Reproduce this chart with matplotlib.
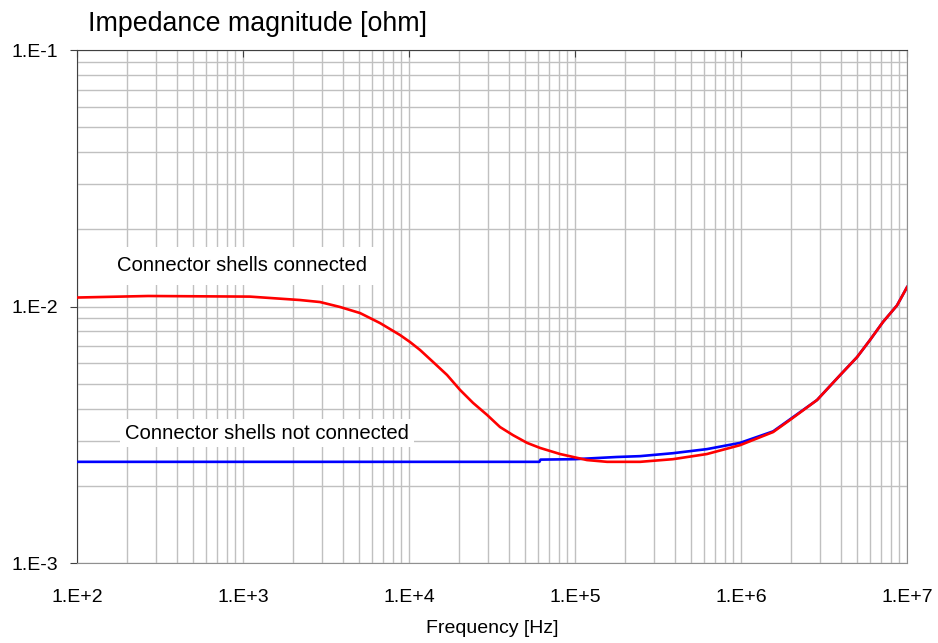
import numpy as np
import matplotlib.pyplot as plt
from matplotlib.ticker import FixedLocator, LogLocator, FuncFormatter

plt.rcParams['font.family'] = ['Liberation Sans', 'DejaVu Sans']

# impedance with the connector shells bonded together
freq_conn = [100, 268, 1100, 2203, 2911, 3837, 5070, 6687, 8830, 10140, 11650,
             13950, 16940, 20290, 24300, 29510, 35320, 42350, 51420, 61540,
             81250, 1.18e5, 1.56e5, 2.466e5, 3.89e5, 6.23e5, 9.86e5, 1.56e6,
             1.97e6, 2.87e6, 3.95e6, 5.0e6, 5.98e6, 7.16e6, 8.7e6, 1.0e7]
z_conn = [0.01084, 0.01099, 0.01093, 0.01060, 0.01041, 0.00996, 0.00943, 0.00862,
          0.00774, 0.00727, 0.00677, 0.00608, 0.00541, 0.00473, 0.00421, 0.00378,
          0.00339, 0.00315, 0.00294, 0.00281, 0.00266, 0.00252, 0.00248, 0.00248,
          0.00254, 0.00266, 0.00288, 0.00324, 0.00361, 0.00432, 0.0054, 0.00635,
          0.0074, 0.0087, 0.0101, 0.0119]

# impedance with the shells left floating
freq_open = [100, 1.0e3, 1.0e4, 6.1e4, 6.2e4, 1.0e5, 1.78e5, 2.466e5, 3.89e5,
             6.23e5, 9.86e5, 1.56e6, 1.97e6, 2.87e6, 3.95e6, 5.0e6, 5.98e6,
             7.16e6, 8.7e6, 1.0e7]
z_open = [0.00248, 0.00248, 0.00248, 0.00248, 0.00253, 0.00254, 0.00259, 0.00261,
          0.00268, 0.00278, 0.00294, 0.00326, 0.00363, 0.00432, 0.0054, 0.00635,
          0.0074, 0.0087, 0.0101, 0.0119]

x_ticks = [1e2, 1e3, 1e4, 1e5, 1e6, 1e7]
y_ticks = [1e-3, 1e-2, 1e-1]


def excel_fmt(v, pos):
    e = int(round(np.log10(v)))
    return f"1.E{e:+d}" if e >= 0 else f"1.E-{abs(e)}"


fig = plt.figure(figsize=(9.38, 6.43), dpi=100)
ax = fig.add_axes([0.0821, 0.1244, 0.8849, 0.7978])

ax.plot(freq_open, z_open, color='#0000ff', lw=1.9, zorder=3)
ax.plot(freq_conn, z_conn, color='#ff0000', lw=1.9, zorder=4)

ax.set_xscale('log')
ax.set_yscale('log')
ax.set_xlim(1e2, 1e7)
ax.set_ylim(1e-3, 1e-1)

ax.xaxis.set_major_locator(FixedLocator(x_ticks))
ax.yaxis.set_major_locator(FixedLocator(y_ticks))
ax.xaxis.set_minor_locator(LogLocator(base=10, subs=np.arange(2, 10), numticks=20))
ax.yaxis.set_minor_locator(LogLocator(base=10, subs=np.arange(2, 10), numticks=20))
ax.xaxis.set_major_formatter(FuncFormatter(excel_fmt))
ax.yaxis.set_major_formatter(FuncFormatter(excel_fmt))
ax.xaxis.set_minor_formatter(FuncFormatter(lambda v, p: ''))
ax.yaxis.set_minor_formatter(FuncFormatter(lambda v, p: ''))

ax.grid(which='both', color='#c0c0c0', lw=1.0, zorder=0)
ax.set_axisbelow(True)

ax.tick_params(axis='x', which='major', direction='in', top=True, bottom=False,
               length=5, color='#404040', labelsize=14, pad=19)
ax.tick_params(axis='x', which='minor', top=False, bottom=False)
ax.tick_params(axis='y', which='major', direction='out', length=5, color='#404040',
               labelsize=14, pad=8.5)
ax.tick_params(axis='y', which='minor', left=False)

ax.spines['left'].set_color('#404040')
ax.spines['top'].set_color('#404040')
ax.spines['bottom'].set_color('#909090')
ax.spines['right'].set_color('#909090')

ax.set_xlabel('Frequency [Hz]', fontsize=14, labelpad=10)
fig.text(0.0938, 0.9627, 'Impedance magnitude [ohm]', fontsize=19.3, va='center', ha='left')

ax.text(174, 0.01439, 'Connector shells connected', fontsize=14.6, ha='left', va='center',
        bbox=dict(facecolor='white', edgecolor='none', pad=7), zorder=5)
ax.text(195, 0.00321, 'Connector shells not connected', fontsize=14.6, ha='left',
        va='center', bbox=dict(facecolor='white', edgecolor='none', pad=3.5), zorder=5)

fig.savefig('out.png', dpi=100)
